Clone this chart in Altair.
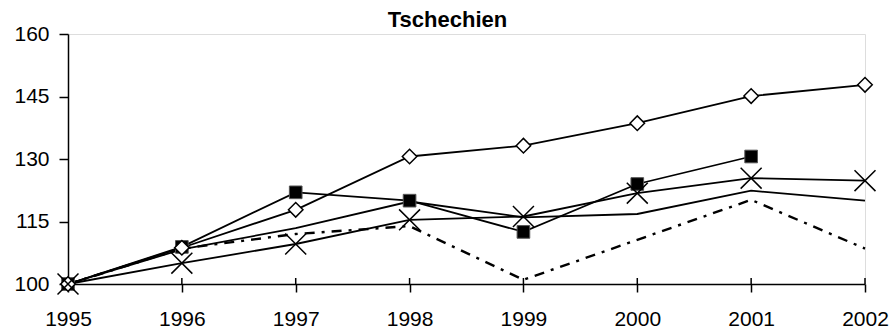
import altair as alt
import pandas as pd

# Index values (1995 = 100) for five series
years = [1995, 1996, 1997, 1998, 1999, 2000, 2001, 2002]
diamond_vals = [100, 108.7, 117.8, 130.6, 133.2, 138.6, 145.1, 147.8]
square_vals = [100, 108.9, 122.0, 120.0, 112.5, 124.0, 130.6, None]
cross_vals = [100, 105.0, 109.6, 115.4, 116.2, 121.8, 125.4, 124.8]
plain_vals = [100, 108.3, 113.4, 119.8, 116.0, 116.8, 122.4, 120.0]
dashed_vals = [100, 108.5, 112.0, 113.9, 101.0, 110.6, 120.2, 108.5]
y_ticks = [100, 115, 130, 145, 160]

FONT = "Liberation Sans"
W, H = 797, 250

rows = []
for name, vals in [("diamond", diamond_vals), ("square", square_vals),
                   ("cross", cross_vals), ("plain", plain_vals),
                   ("dashed", dashed_vals)]:
    for yr, v in zip(years, vals):
        if v is not None:
            rows.append({"year": yr, "value": v, "series": name})
df = pd.DataFrame(rows)

x = alt.X("year:Q", scale=alt.Scale(domain=[years[0], years[-1]], nice=False, zero=False),
          axis=alt.Axis(values=years, format="d", title=None, grid=False,
                        labelFont=FONT, labelFontSize=21, labelColor="black",
                        labelBaseline="alphabetic", labelPadding=33,
                        tickSize=8, tickColor="black", tickWidth=1.5,
                        domainColor="black", domainWidth=1.5, labelFlush=False))
y = alt.Y("value:Q", scale=alt.Scale(domain=[y_ticks[0], y_ticks[-1]], nice=False, zero=False),
          axis=alt.Axis(values=y_ticks, title=None, grid=False,
                        labelFont=FONT, labelFontSize=21, labelColor="black",
                        labelPadding=10, tickSize=9, tickColor="black", tickWidth=1.5,
                        domainColor="black", domainWidth=1.5))

base = alt.Chart(df)

solid = base.transform_filter(
    alt.FieldOneOfPredicate(field="series", oneOf=["diamond", "square", "cross", "plain"])
).mark_line(color="black", strokeWidth=1.8).encode(x=x, y=y, detail="series:N")

dashed = base.transform_filter(alt.datum.series == "dashed").mark_line(
    color="black", strokeWidth=2.4, strokeDash=[10, 7, 3, 7]
).encode(x=x, y=y)

squares = base.transform_filter(alt.datum.series == "square").mark_point(
    shape="square", filled=True, fill="black", stroke="#555555", strokeWidth=1,
    size=160, opacity=1
).encode(x=x, y=y)

diamonds = base.transform_filter(alt.datum.series == "diamond").mark_point(
    shape="diamond", filled=True, fill="white", stroke="black", strokeWidth=1.5,
    size=210, opacity=1
).encode(x=x, y=y)

crosses = base.transform_filter(alt.datum.series == "cross").mark_point(
    shape="M-1,-1L1,1M-1,1L1,-1", filled=False, stroke="black", strokeWidth=1.5,
    size=440, opacity=1
).encode(x=x, y=y)

# upward half of the x-axis tick marks
tick_up = alt.Chart(pd.DataFrame({"year": years[1:]})).mark_rule(
    color="black", strokeWidth=1.5
).encode(x=alt.X("year:Q"), y=alt.value(H - 6), y2=alt.value(H))

chart = alt.layer(solid, dashed, squares, diamonds, crosses, tick_up).properties(
    width=W, height=H,
    title=alt.TitleParams("Tschechien", font=FONT, fontSize=22, fontWeight="bold",
                          color="black", anchor="middle", dx=-19, dy=33, offset=7,
                          baseline="alphabetic"),
    autosize=alt.AutoSizeParams(type="none"),
    padding={"left": 68, "top": 34, "right": 29, "bottom": 48},
).configure_view(stroke=None).configure(background="white")

chart.save("out.html", embed_options={"renderer": "svg", "actions": False})
